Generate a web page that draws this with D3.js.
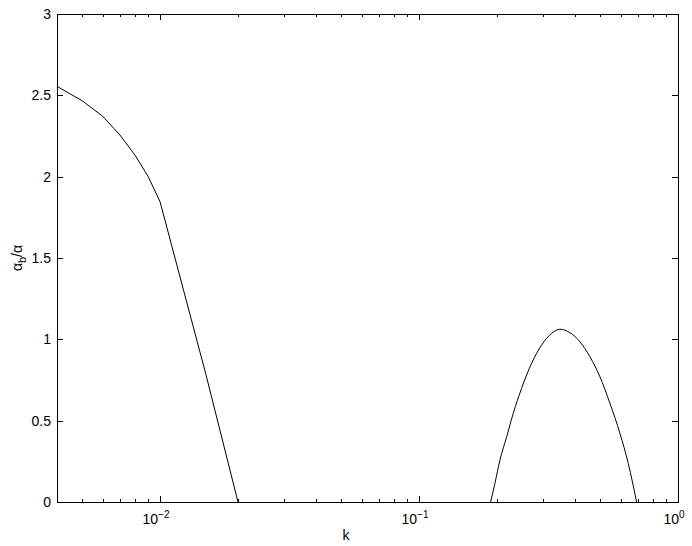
<!DOCTYPE html>
<meta charset="utf-8">
<body style="margin:0;background:#fff">
<div id="chart"></div>
<script src="https://d3js.org/d3.v7.min.js"></script>
<script>
// left branch (piecewise linear)
var kLow = [0.004, 0.005, 0.006, 0.007, 0.008, 0.009, 0.01, 0.015, 0.02];
var ratioLow = [2.555, 2.467, 2.372, 2.256, 2.133, 2.0, 1.846, 0.79, 0];
// right hump
var kHigh = [0.189, 0.1964, 0.2053, 0.218, 0.2311, 0.2489, 0.2721, 0.2974, 0.3251, 0.35,
  0.3825, 0.4181, 0.457, 0.4995, 0.5459, 0.5967, 0.6425, 0.692];
var ratioHigh = [0, 0.115, 0.258, 0.401, 0.545, 0.699, 0.853, 0.965, 1.037, 1.062,
  1.041, 0.985, 0.893, 0.77, 0.607, 0.422, 0.238, 0];
var yTicks = [0, 0.5, 1, 1.5, 2, 2.5, 3];
var xDecades = [-2, -1, 0];

var W = 692, H = 546;
var margin = {top: 14, right: 14, bottom: 44, left: 57};
var width = W - margin.left - margin.right,
  height = H - margin.top - margin.bottom;

var svg = d3.select("#chart").append("svg")
  .attr("width", W).attr("height", H)
  .style("font-family", "'Liberation Sans', Arial, sans-serif");
var g = svg.append("g")
  .attr("transform", "translate(" + margin.left + "," + margin.top + ")");

var x = d3.scaleLog().domain([0.004, 1]).range([0, width]);
var y = d3.scaleLinear().domain([0, 3]).range([height, 0]);

// minor / major x tick positions
var xMinor = [];
[0.001, 0.01, 0.1].forEach(function(base) {
  for (var m = 2; m <= 9; m++) {
    var v = base * m;
    if (v >= 0.004 && v < 1) xMinor.push(v);
  }
});

// ticks (inside, on all four sides)
var tk = g.append("g").attr("stroke", "#000").attr("stroke-width", 1);
xMinor.forEach(function(v) {
  var px = Math.round(x(v)) + 0.5;
  tk.append("line").attr("x1", px).attr("x2", px).attr("y1", height).attr("y2", height - 3);
  tk.append("line").attr("x1", px).attr("x2", px).attr("y1", 0).attr("y2", 3);
});
xDecades.forEach(function(d) {
  var px = Math.round(x(Math.pow(10, d))) + 0.5;
  tk.append("line").attr("x1", px).attr("x2", px).attr("y1", height).attr("y2", height - 6);
  tk.append("line").attr("x1", px).attr("x2", px).attr("y1", 0).attr("y2", 6);
});
yTicks.forEach(function(v) {
  var py = Math.round(y(v)) + 0.5;
  tk.append("line").attr("x1", 0).attr("x2", 6).attr("y1", py).attr("y2", py);
  tk.append("line").attr("x1", width).attr("x2", width - 6).attr("y1", py).attr("y2", py);
});

// box
g.append("rect")
  .attr("x", 0.5).attr("y", 0.5)
  .attr("width", width).attr("height", height)
  .attr("fill", "none").attr("stroke", "#000");

// y tick labels
g.selectAll(".ylab").data(yTicks).enter().append("text")
  .attr("x", -6).attr("y", function(d) { return y(d); })
  .attr("dy", "0.35em")
  .attr("text-anchor", "end")
  .style("font-size", "14px")
  .text(function(d) { return d; });

// x tick labels 10^n
xDecades.forEach(function(d) {
  var t = g.append("text")
    .attr("x", x(Math.pow(10, d)) - 4)
    .attr("y", height + 22)
    .attr("text-anchor", "middle")
    .style("font-size", "14px");
  t.append("tspan").text("10");
  t.append("tspan").attr("dy", -6).style("font-size", "10px").text(d === 0 ? "0" : "\u2212" + (-d));
});

// axis titles
g.append("text")
  .attr("x", x(0.05) + 5).attr("y", height + 38)
  .attr("text-anchor", "middle")
  .style("font-size", "14px")
  .text("k");

var yl = svg.append("text")
  .attr("transform", "translate(22," + (margin.top + height / 2) + ") rotate(-90)")
  .attr("text-anchor", "middle")
  .style("font-size", "14px");
yl.append("tspan").text("\u03b1");
yl.append("tspan").attr("dy", 4).style("font-size", "11px").text("b");
yl.append("tspan").attr("dy", -4).text("/\u03b1");

// curves
var line = d3.line()
  .x(function(d) { return x(d[0]); })
  .y(function(d) { return y(d[1]); });

g.append("path")
  .datum(kLow.map(function(k, i) { return [k, ratioLow[i]]; }))
  .attr("d", line)
  .attr("fill", "none").attr("stroke", "#000").attr("stroke-width", 1);

g.append("path")
  .datum(kHigh.map(function(k, i) { return [k, ratioHigh[i]]; }))
  .attr("d", line.curve(d3.curveMonotoneX))
  .attr("fill", "none").attr("stroke", "#000").attr("stroke-width", 1);
</script>
</body>
